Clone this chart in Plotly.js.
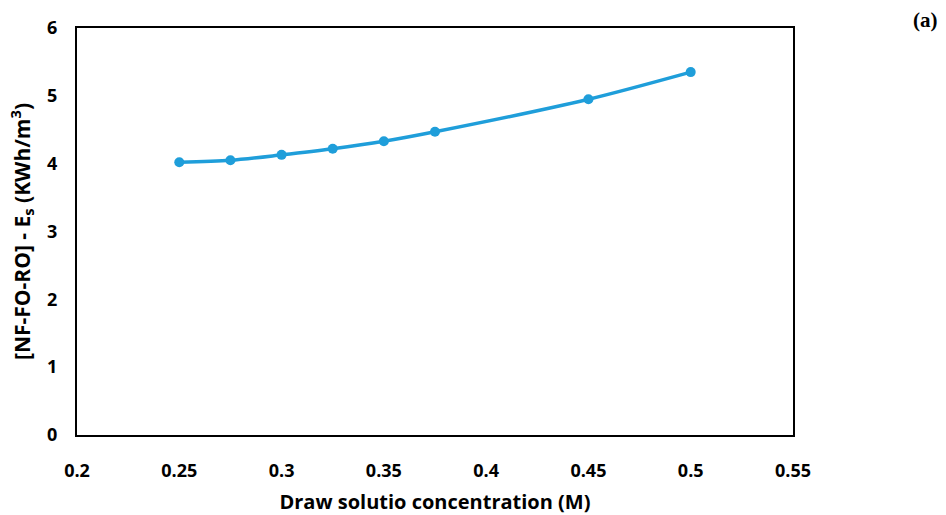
<!DOCTYPE html>
<html>
<head>
<meta charset="utf-8">
<script src="https://cdn.plot.ly/plotly-3.0.1.min.js"></script>
<style>html,body{margin:0;padding:0;background:#fff;}#chart{width:946px;height:515px;}</style>
</head>
<body>
<div id="chart"></div>
<script>
const concentration = [0.25, 0.275, 0.3, 0.325, 0.35, 0.375, 0.45, 0.5];
const energy = [4.02, 4.05, 4.13, 4.22, 4.33, 4.47, 4.95, 5.35];
const xTicks = [0.2, 0.25, 0.3, 0.35, 0.4, 0.45, 0.5, 0.55];
const xTickText = ['0.2', '0.25', '0.3', '0.35', '0.4', '0.45', '0.5', '0.55'];
const yTicks = [0, 1, 2, 3, 4, 5, 6];

const tickFont = {family: 'Open Sans, sans-serif', size: 18, color: '#000', weight: 700};
const data = [{
  x: concentration, y: energy, type: 'scatter', mode: 'lines+markers',
  line: {color: 'rgb(31,158,218)', width: 3.5, shape: 'spline', smoothing: 0.8},
  marker: {color: 'rgb(31,158,218)', size: 10},
  hoverinfo: 'none'
}];
const layout = {
  width: 946, height: 515,
  margin: {l: 77, r: 153, t: 28, b: 80},
  paper_bgcolor: '#fff', plot_bgcolor: '#fff',
  showlegend: false,
  xaxis: {
    range: [0.2, 0.55], tickvals: xTicks, ticktext: xTickText,
    showgrid: false, zeroline: false, showline: true, mirror: true,
    linecolor: '#000', linewidth: 2, ticks: 'outside', ticklen: 18, tickcolor: 'rgba(0,0,0,0)',
    tickfont: tickFont,
    title: {text: 'Draw solutio concentration (M)', font: {family: 'Open Sans, sans-serif', size: 20, color: '#000', weight: 700}, standoff: 14}
  },
  yaxis: {
    range: [0, 6], tickvals: yTicks,
    showgrid: false, zeroline: false, showline: true, mirror: true,
    linecolor: '#000', linewidth: 2, ticks: 'outside', ticklen: 14, tickcolor: 'rgba(0,0,0,0)',
    tickfont: tickFont,
    title: {text: '[NF-FO-RO] - E<sub>s</sub> (KWh/m<sup>3</sup>)', font: {family: 'Open Sans, sans-serif', size: 21, color: '#000', weight: 700}, standoff: 11}
  },
  annotations: [{
    text: '<b>(a)</b>', xref: 'paper', yref: 'paper', x: 1.185, y: 1.02,
    xanchor: 'center', yanchor: 'middle', showarrow: false,
    font: {family: 'Liberation Serif, serif', size: 21, color: '#000'}
  }]
};
Plotly.newPlot('chart', data, layout, {displayModeBar: false, staticPlot: true});
</script>
</body>
</html>
